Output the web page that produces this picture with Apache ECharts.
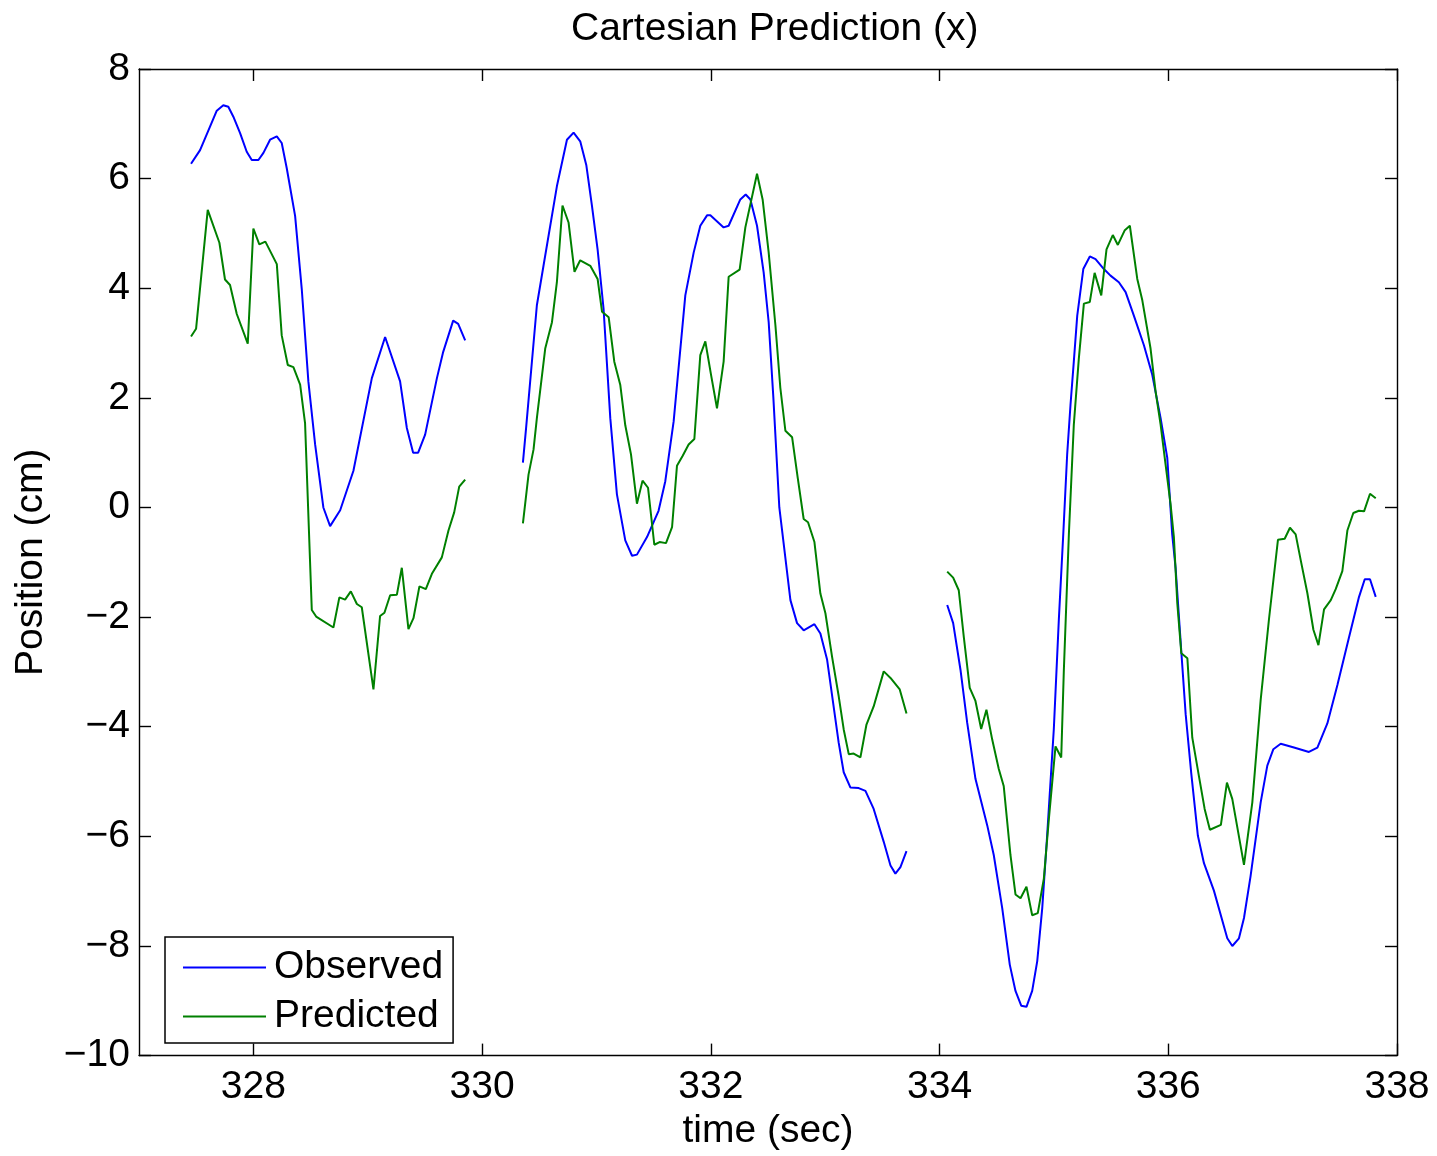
<!DOCTYPE html>
<html>
<head>
<meta charset="utf-8">
<script src="https://cdn.jsdelivr.net/npm/echarts@6/dist/echarts.min.js"></script>
<style>
html,body{margin:0;padding:0;background:#fff;}
#chart{width:1437px;height:1156px;}
</style>
</head>
<body>
<div id="chart"></div>
<script>
// ---- Data ----
const xTicks = [328, 330, 332, 334, 336, 338];
const yTicks = [-10, -8, -6, -4, -2, 0, 2, 4, 6, 8];

// Observed (blue), three recorded segments
const obsT1 = [327.455,327.534,327.621,327.680,327.737,327.781,327.825,327.884,327.942,327.986,328.044,328.088,328.146,328.205,328.248,328.292,328.365,328.423,328.481,328.540,328.612,328.671,328.759,328.875,329.036,329.152,329.283,329.342,329.397,329.441,329.502,329.605,329.660,329.747,329.791,329.852];
const obsV1 = [6.27,6.52,6.95,7.24,7.34,7.31,7.13,6.83,6.49,6.34,6.34,6.47,6.71,6.77,6.65,6.19,5.32,3.99,2.30,1.15,0.00,-0.34,-0.05,0.67,2.36,3.11,2.30,1.45,1.00,1.00,1.33,2.36,2.84,3.41,3.35,3.05];

const obsT2 = [330.357,330.386,330.479,330.537,330.654,330.742,330.800,330.858,330.911,330.961,331.010,331.062,331.121,331.179,331.252,331.311,331.354,331.442,331.543,331.602,331.675,331.777,331.850,331.908,331.967,331.996,332.112,332.156,332.258,332.305,332.346,332.404,332.462,332.506,332.547,332.599,332.637,332.696,332.754,332.812,332.906,332.958,333.017,333.118,333.162,333.221,333.293,333.352,333.424,333.512,333.571,333.614,333.658,333.711];
const obsV2 = [0.82,1.48,3.69,4.41,5.86,6.71,6.84,6.68,6.25,5.50,4.71,3.63,1.63,0.24,-0.60,-0.88,-0.86,-0.54,-0.06,0.48,1.57,3.87,4.65,5.14,5.33,5.33,5.11,5.14,5.62,5.71,5.62,5.14,4.29,3.38,2.00,0.00,-0.66,-1.69,-2.11,-2.24,-2.13,-2.30,-2.78,-4.29,-4.83,-5.11,-5.12,-5.17,-5.50,-6.10,-6.53,-6.68,-6.56,-6.27];

const obsT3 = [334.067,334.119,334.183,334.242,334.314,334.417,334.474,334.548,334.614,334.664,334.714,334.760,334.810,334.854,334.898,334.941,334.999,335.043,335.082,335.116,335.145,335.174,335.204,335.257,335.314,335.364,335.437,335.495,335.568,335.627,335.699,335.787,335.860,335.933,335.991,336.034,336.064,336.114,336.152,336.201,336.259,336.312,336.399,336.516,336.560,336.618,336.662,336.720,336.808,336.866,336.919,336.983,337.099,337.230,337.304,337.391,337.479,337.580,337.668,337.718,337.764,337.814];
const obsV3 = [-1.78,-2.11,-2.96,-3.93,-4.95,-5.80,-6.34,-7.31,-8.34,-8.82,-9.09,-9.11,-8.82,-8.28,-7.31,-5.98,-4.05,-2.05,-0.48,0.97,1.87,2.66,3.50,4.35,4.58,4.53,4.35,4.23,4.11,3.93,3.50,2.96,2.42,1.63,0.91,-0.48,-1.10,-2.63,-3.77,-4.85,-5.99,-6.49,-6.99,-7.86,-8.00,-7.86,-7.49,-6.72,-5.38,-4.71,-4.41,-4.31,-4.38,-4.46,-4.38,-3.94,-3.24,-2.37,-1.63,-1.31,-1.31,-1.63];

// Predicted (green), three segments
const predT1 = [327.455,327.499,327.601,327.703,327.752,327.796,327.855,327.951,328.000,328.052,328.105,328.205,328.248,328.301,328.350,328.409,328.452,328.511,328.549,328.700,328.752,328.802,328.852,328.905,328.948,329.050,329.108,329.146,329.196,329.255,329.298,329.356,329.400,329.452,329.508,329.561,329.648,329.706,329.756,329.800,329.852];
const predV1 = [3.12,3.26,5.43,4.83,4.16,4.06,3.53,2.99,5.09,4.80,4.85,4.44,3.14,2.60,2.56,2.24,1.54,-1.87,-1.99,-2.19,-1.64,-1.68,-1.53,-1.76,-1.82,-3.32,-1.98,-1.92,-1.60,-1.59,-1.10,-2.22,-2.02,-1.44,-1.49,-1.21,-0.91,-0.42,-0.09,0.38,0.51];

const predT2 = [330.357,330.406,330.450,330.479,330.552,330.611,330.654,330.703,330.756,330.808,330.858,330.946,331.010,331.049,331.107,331.156,331.208,331.252,331.302,331.354,331.403,331.451,331.506,331.552,331.608,331.661,331.704,331.753,331.806,331.856,331.908,331.952,332.002,332.054,332.112,332.156,332.252,332.302,332.404,332.453,332.506,332.565,332.608,332.652,332.711,332.760,332.812,332.850,332.906,332.958,333.002,333.060,333.118,333.162,333.206,333.249,333.308,333.361,333.424,333.512,333.571,333.652,333.711];
const predV2 = [-0.29,0.60,1.06,1.63,2.90,3.38,4.11,5.51,5.20,4.30,4.51,4.41,4.17,3.57,3.47,2.66,2.24,1.50,0.97,0.07,0.49,0.36,-0.68,-0.63,-0.65,-0.36,0.76,0.94,1.15,1.25,2.78,3.03,2.42,1.81,2.66,4.21,4.34,5.11,6.09,5.62,4.65,3.32,2.18,1.40,1.28,0.54,-0.21,-0.27,-0.63,-1.57,-1.93,-2.72,-3.44,-4.05,-4.50,-4.49,-4.56,-3.96,-3.63,-2.99,-3.11,-3.32,-3.76];

const predT3 = [334.067,334.119,334.168,334.212,334.264,334.314,334.364,334.410,334.460,334.518,334.561,334.620,334.664,334.708,334.760,334.810,334.859,334.912,334.956,335.014,335.064,335.087,335.131,335.174,335.218,335.262,335.314,335.356,335.414,335.460,335.515,335.559,335.620,335.664,335.729,335.773,335.845,335.889,335.933,335.976,336.020,336.049,336.079,336.114,336.167,336.210,336.268,336.318,336.364,336.460,336.513,336.560,336.662,336.735,336.808,336.881,336.959,337.018,337.064,337.114,337.158,337.216,337.269,337.313,337.362,337.421,337.464,337.522,337.566,337.618,337.667,337.712,337.764,337.814];
const predV3 = [-1.17,-1.28,-1.51,-2.36,-3.29,-3.53,-4.04,-3.69,-4.23,-4.77,-5.08,-6.34,-7.06,-7.13,-6.92,-7.44,-7.40,-6.77,-5.68,-4.36,-4.56,-2.96,-0.48,1.51,2.72,3.72,3.75,4.28,3.87,4.71,4.97,4.79,5.06,5.14,4.17,3.78,2.90,2.12,1.51,0.79,0.06,-0.54,-1.75,-2.66,-2.75,-4.20,-4.90,-5.50,-5.88,-5.79,-5.02,-5.32,-6.52,-5.38,-3.51,-2.03,-0.59,-0.57,-0.37,-0.49,-0.96,-1.56,-2.23,-2.51,-1.86,-1.69,-1.49,-1.16,-0.42,-0.10,-0.06,-0.07,0.25,0.17];

// ---- Build series data (gaps between segments break the line) ----
function pairs(ts, vs) { return ts.map((t, i) => [t, vs[i]]); }
function joinSegments(segs) {
  const out = [];
  segs.forEach((s, k) => {
    if (k > 0) out.push([(out[out.length - 1][0] + s[0][0]) / 2, null]);
    s.forEach(p => out.push(p));
  });
  return out;
}
const obsData = joinSegments([pairs(obsT1, obsV1), pairs(obsT2, obsV2), pairs(obsT3, obsV3)]);
const predData = joinSegments([pairs(predT1, predV1), pairs(predT2, predV2), pairs(predT3, predV3)]);

const FONT = '"Liberation Sans", Arial, Helvetica, sans-serif';
const FS = 39;
const minus = v => String(v).replace('-', '\u2212');

const axisLine = { show: true, onZero: false, lineStyle: { color: '#000', width: 1.4 } };
const tickIn = (vals) => ({ show: true, inside: true, length: 12, lineStyle: { color: '#000', width: 1.4 }, customValues: vals });

const chart = echarts.init(document.getElementById('chart'), null, { renderer: 'canvas' });
chart.setOption({
  backgroundColor: '#fff',
  animation: false,
  title: {
    text: 'Cartesian Prediction (x)',
    left: 566, top: 5,
    textStyle: { fontFamily: FONT, fontSize: FS, fontWeight: 'normal', color: '#000', lineHeight: 39 }
  },
  grid: { left: 139, right: 40, top: 69, bottom: 94, containLabel: false },
  legend: {
    orient: 'vertical',
    left: 165, top: 937,
    padding: [11, 10, 7, 17],
    itemWidth: 83, itemHeight: 2, itemGap: 10,
    itemStyle: { opacity: 0 },
    borderColor: '#000', borderWidth: 1.5, backgroundColor: '#fff',
    textStyle: { fontFamily: FONT, fontSize: FS, color: '#000', lineHeight: 38, padding: [0, 0, 0, 3] },
    data: ['Observed', 'Predicted']
  },
  xAxis: [
    {
      type: 'value', position: 'bottom', min: 327, max: 338,
      axisLine: axisLine, axisTick: tickIn(xTicks),
      axisLabel: { show: true, customValues: xTicks, margin: 13, fontFamily: FONT, fontSize: FS, color: '#000', lineHeight: 38 },
      splitLine: { show: false },
      name: 'time (sec)', nameLocation: 'middle', nameGap: 54,
      nameTextStyle: { fontFamily: FONT, fontSize: FS, color: '#000', lineHeight: 38 }
    },
    {
      type: 'value', position: 'top', min: 327, max: 338,
      axisLine: axisLine, axisTick: tickIn(xTicks),
      axisLabel: { show: false }, splitLine: { show: false }
    }
  ],
  yAxis: [
    {
      type: 'value', position: 'left', min: -10, max: 8, interval: 2,
      axisLine: axisLine, axisTick: tickIn(yTicks),
      axisLabel: { show: true, customValues: yTicks, margin: 9, fontFamily: FONT, fontSize: FS, color: '#000', formatter: minus },
      splitLine: { show: false },
      name: 'Position (cm)', nameLocation: 'middle', nameGap: 89, nameRotate: 90,
      nameTextStyle: { fontFamily: FONT, fontSize: FS, color: '#000', lineHeight: 38 }
    },
    {
      type: 'value', position: 'right', min: -10, max: 8, interval: 2,
      axisLine: axisLine, axisTick: tickIn(yTicks),
      axisLabel: { show: false }, splitLine: { show: false }
    }
  ],
  series: [
    {
      name: 'Observed', type: 'line', xAxisIndex: 0, yAxisIndex: 0,
      data: obsData, symbol: 'none', showSymbol: false, connectNulls: false,
      lineStyle: { color: '#0000ff', width: 2 }, itemStyle: { color: '#0000ff' }
    },
    {
      name: 'Predicted', type: 'line', xAxisIndex: 0, yAxisIndex: 0,
      data: predData, symbol: 'none', showSymbol: false, connectNulls: false,
      lineStyle: { color: '#008000', width: 2 }, itemStyle: { color: '#008000' }
    }
  ]
});
</script>
</body>
</html>
